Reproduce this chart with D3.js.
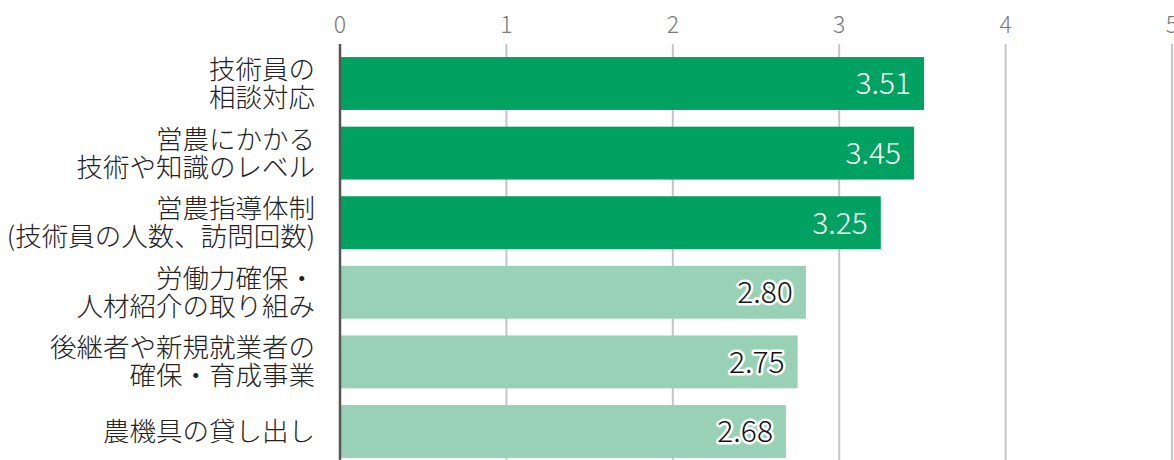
<!DOCTYPE html>
<html>
<head>
<meta charset="utf-8">
<script src="https://cdn.jsdelivr.net/npm/d3@7"></script>
<style>
  body { margin: 0; background: #fff; }
  svg { display: block; font-family: "Noto Sans CJK JP", "Noto Sans", sans-serif; font-weight: 300; }
</style>
</head>
<body>
<div id="chart"></div>
<script>
// categories (each label split into lines) and values
var categories = [
  ["技術員の", "相談対応"],
  ["営農にかかる", "技術や知識のレベル"],
  ["営農指導体制", "(技術員の人数、訪問回数)"],
  ["労働力確保・", "人材紹介の取り組み"],
  ["後継者や新規就業者の", "確保・育成事業"],
  ["農機具の貸し出し"]
];
var values = [3.51, 3.45, 3.25, 2.80, 2.75, 2.68];
var tickValues = [0, 1, 2, 3, 4, 5];
// first three bars highlighted
var highlighted = [true, true, true, false, false, false];

var width = 1174, height = 460;

var rows = values.map(function (v, i) {
    return { i: i, value: v, label: categories[i], hi: highlighted[i] };
});

var svg = d3.select("#chart").append("svg")
    .attr("width", width)
    .attr("height", height);

var x = d3.scaleLinear().domain([0, 5]).range([340, 1172]);

var y = d3.scaleBand()
    .domain(d3.range(values.length))
    .range([48.7, 466.3])
    .paddingInner(0.24)
    .paddingOuter(0.12);

// gridlines
svg.append("g")
    .selectAll("line")
    .data(tickValues.filter(function (d) { return d > 0; }))
    .enter().append("line")
    .attr("x1", function (d) { return x(d); })
    .attr("x2", function (d) { return x(d); })
    .attr("y1", 44)
    .attr("y2", height)
    .attr("stroke", "#c6c6c6")
    .attr("stroke-width", 2);

// tick labels on top
svg.append("g")
    .selectAll("text")
    .data(tickValues)
    .enter().append("text")
    .attr("x", function (d) { return x(d); })
    .attr("y", 33)
    .attr("text-anchor", "middle")
    .attr("font-size", 23)
    .attr("fill", "#7a7a7a")
    .text(function (d) { return d; });

// bars
svg.append("g")
    .selectAll("rect")
    .data(rows)
    .enter().append("rect")
    .attr("x", x(0))
    .attr("y", function (d) { return y(d.i); })
    .attr("width", function (d) { return x(d.value) - x(0); })
    .attr("height", y.bandwidth())
    .attr("fill", function (d) { return d.hi ? "#00a161" : "#99d1b6"; });

// axis line
svg.append("line")
    .attr("x1", x(0)).attr("x2", x(0))
    .attr("y1", 44).attr("y2", height)
    .attr("stroke", "#555")
    .attr("stroke-width", 2.5);

// value labels (dark text gets a white halo)
var labels = svg.append("g");

labels.selectAll("text.halo")
    .data(rows.filter(function (d) { return !d.hi; }))
    .enter().append("text")
    .attr("class", "halo")
    .attr("x", function (d) { return x(d.value) - 13; })
    .attr("y", function (d) { return y(d.i) + y.bandwidth() / 2; })
    .attr("dy", "0.36em")
    .attr("text-anchor", "end")
    .attr("font-size", 30)
    .attr("fill", "none")
    .attr("stroke", "#fff")
    .attr("stroke-width", 5)
    .attr("stroke-linejoin", "round")
    .text(function (d) { return d.value.toFixed(2); });

labels.selectAll("text.val")
    .data(rows)
    .enter().append("text")
    .attr("class", "val")
    .attr("x", function (d) { return x(d.value) - 13; })
    .attr("y", function (d) { return y(d.i) + y.bandwidth() / 2; })
    .attr("dy", "0.36em")
    .attr("text-anchor", "end")
    .attr("font-size", 30)
    .attr("fill", function (d) { return d.hi ? "#fff" : "#111"; })
    .text(function (d) { return d.value.toFixed(2); });

// category labels
var lineHeight = 28;
svg.append("g")
    .selectAll("text")
    .data(rows)
    .enter().append("text")
    .attr("text-anchor", "end")
    .attr("font-size", 26.5)
    .attr("fill", "#222")
    .each(function (d) {
        var lines = d.label;
        var cy = y(d.i) + y.bandwidth() / 2;
        var first = cy - (lines.length - 1) * lineHeight / 2;
        d3.select(this).selectAll("tspan")
            .data(lines)
            .enter().append("tspan")
            .attr("x", 315)
            .attr("y", function (l, j) { return first + j * lineHeight; })
            .attr("dy", "0.36em")
            .text(function (l) { return l; });
    });
</script>
</body>
</html>
